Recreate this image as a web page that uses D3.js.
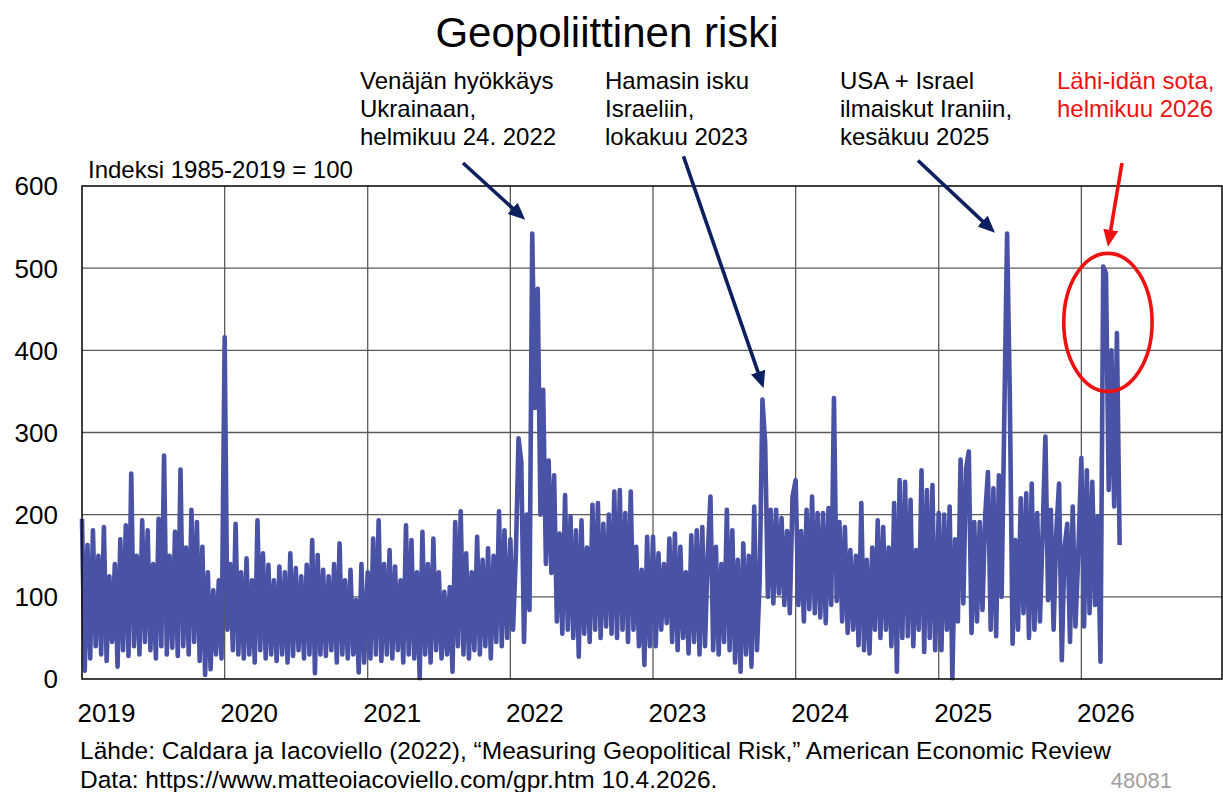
<!DOCTYPE html>
<html><head><meta charset="utf-8">
<script src="https://cdn.jsdelivr.net/npm/d3@7"></script>
<style>
body{margin:0;background:#fff}
svg{display:block}
text{font-family:"Liberation Sans",Arial,Helvetica,sans-serif;fill:#000}
</style>
</head><body>
<svg id="c" width="1223" height="792"></svg>
<script>
// ---- Data (weekly readings, Geopolitical Risk daily index, 1985-2019 = 100) ----
const gpr2019 = [195,10,163,25,181,40,150,30,185,22,125,45,140,15,170,35,187,28,250,40,150,30,193,45,181,35,140,25,195,40,272,30,150,38,179,28,255,40,160,30,206,45,191,22,161,5,130,12,108,30,120,25];
const gpr2020 = [416,60,140,35,189,30,130,25,147,30,120,20,193,35,153,25,139,30,120,22,137,30,130,20,153,28,135,35,125,25,139,30,169,7,151,30,133,28,125,35,140,20,165,30,120,25,133,30,96,8,140,20];
const gpr2021 = [130,25,171,30,193,22,140,30,157,25,137,35,120,20,187,30,169,25,130,1,179,30,140,20,171,35,130,25,106,30,112,9,191,40,204,30,153,25,130,35,173,30,145,40,159,25,150,45,204,40,181,50];
const gpr2022 = [170,60,150,293,264,45,200,84,542,330,475,200,352,140,266,129,248,70,177,55,224,60,198,50,181,27,193,55,160,45,212,60,214,50,189,64,200,55,228,50,230,60,202,45,228,60,161,40,133,17,173,40];
const gpr2023 = [173,40,153,60,140,68,171,45,177,35,161,50,130,31,175,45,181,30,185,40,150,222,35,161,30,140,45,206,35,181,20,145,9,165,30,150,15,210,35,120,340,287,100,206,92,206,104,196,90,180,80,222];
const gpr2024 = [242,90,180,70,206,85,222,80,202,75,202,68,208,90,342,95,191,70,185,56,157,60,150,41,214,35,145,31,160,60,193,50,185,60,160,40,214,9,242,50,240,52,218,40,157,60,254,33,230,50,236,35];
const gpr2025 = [202,35,200,60,210,1,170,70,267,92,256,277,56,191,70,191,84,200,252,60,232,52,248,100,323,542,344,43,169,60,220,80,226,50,238,60,202,70,180,295,96,206,60,180,238,23,160,189,45,210,64,150];
const gpr2026 = [269,64,254,80,240,90,198,21,502,494,230,400,210,421,163];

const seriesYears = [2019,2020,2021,2022,2023,2024,2025,2026];
const seriesValues = [gpr2019,gpr2020,gpr2021,gpr2022,gpr2023,gpr2024,gpr2025,gpr2026];

const yTicks = [0,100,200,300,400,500,600];
const xTickYears = [2019,2020,2021,2022,2023,2024,2025,2026];

const titleText = "Geopoliittinen riski";
const unitText = "Indeksi 1985-2019 = 100";
const sourceLines = ["Lähde: Caldara ja Iacoviello (2022), \u201cMeasuring Geopolitical Risk,\u201d American Economic Review",
                     "Data: https://www.matteoiacoviello.com/gpr.htm 10.4.2026."];
const chartId = "48081";

// annotations: text lines + arrow from/to in data space (date, index value)
const annotations = [
  {lines:["Venäjän hyökkäys","Ukrainaan,","helmikuu 24. 2022"], tx:360, color:"#000",
   from:["2021-09-02",628], to:["2022-02-08",559], arrow:"#0c1f5e"},
  {lines:["Hamasin isku","Israeliin,","lokakuu 2023"], tx:605, color:"#000",
   from:["2023-03-20",636], to:["2023-10-11",354], arrow:"#0c1f5e"},
  {lines:["USA + Israel","ilmaiskut Iraniin,","kesäkuu 2025"], tx:840, color:"#000",
   from:["2024-11-09",631], to:["2025-05-25",543], arrow:"#0c1f5e"},
  {lines:["Lähi-idän sota,","helmikuu 2026"], tx:1057, color:"#ee1111",
   from:["2026-04-15",628], to:["2026-03-10",526], arrow:"#ee1111"}
];
const highlight = {x0:"2025-11-17", x1:"2026-07-01", y0:350, y1:518};

// ---- Build ----
const parse = d3.timeParse("%Y-%m-%d");
const data = [];
seriesYears.forEach((yr,k) => {
  seriesValues[k].forEach((v,i) => {
    data.push({date: d3.timeDay.offset(new Date(yr,0,1), 7*i), value: v});
  });
});

const svg = d3.select("#c");
const L = 82, R = 1222, T = 186, B = 679;
const x = d3.scaleTime().domain([new Date(2019,0,1), new Date(2027,0,1)]).range([L, 1224]);
const y = d3.scaleLinear().domain([0,600]).range([B, T]);

// grid
const g = svg.append("g");
g.selectAll("line.h").data(yTicks.filter(t => t>0 && t<600)).join("line")
  .attr("x1", L).attr("x2", R).attr("y1", d=>y(d)).attr("y2", d=>y(d))
  .attr("stroke","#5a5a5a").attr("stroke-width",1.3);
g.selectAll("line.v").data(xTickYears.slice(1)).join("line")
  .attr("x1", d=>x(new Date(d,0,1))).attr("x2", d=>x(new Date(d,0,1)))
  .attr("y1", T).attr("y2", B)
  .attr("stroke","#5a5a5a").attr("stroke-width",1.3);

// series
const line = d3.line().x(d=>x(d.date)).y(d=>y(d.value));
svg.append("path").datum(data).attr("d", line)
  .attr("fill","none").attr("stroke","#4a52a5").attr("stroke-width",4.6)
  .attr("stroke-linejoin","round");

// frame
svg.append("rect").attr("x",L).attr("y",T).attr("width",R-L).attr("height",B-T)
  .attr("fill","none").attr("stroke","#111").attr("stroke-width",1.6);

// y labels
svg.selectAll("text.yl").data(yTicks).join("text")
  .attr("x",58).attr("y",d=>y(d)).attr("dy","0.36em")
  .attr("text-anchor","end").style("font-size","26px").text(d=>d);

// x labels
svg.selectAll("text.xl").data(xTickYears).join("text")
  .attr("x",d=>x(new Date(d,0,1))+24.5).attr("y",722)
  .attr("text-anchor","middle").style("font-size","26px").text(d=>d);

// title
svg.append("text").attr("x",607).attr("y",47).attr("text-anchor","middle")
  .style("font-size","42px").text(titleText);

// unit label
svg.append("text").attr("x",88).attr("y",178).style("font-size","24px").text(unitText);

// annotations
const defs = svg.append("defs");
annotations.forEach((a,k) => {
  const t = svg.append("text").attr("x",a.tx).attr("y",89).style("font-size","24px");
  a.lines.forEach((ln,j) => {
    t.append("tspan").attr("x",a.tx).attr("y",89+28*j).style("fill",a.color).text(ln);
  });
  defs.append("marker").attr("id","ah"+k).attr("markerUnits","userSpaceOnUse")
    .attr("markerWidth",17).attr("markerHeight",15).attr("refX",17).attr("refY",7.5)
    .attr("orient","auto")
    .append("path").attr("d","M0,0 L17,7.5 L0,15 Z").attr("fill",a.arrow);
  const x1 = x(parse(a.from[0])), y1 = y(a.from[1]);
  const x2 = x(parse(a.to[0])), y2 = y(a.to[1]);
  const len = Math.hypot(x2-x1, y2-y1);
  const sx = x2 - (x2-x1)/len*8, sy = y2 - (y2-y1)/len*8;
  svg.append("line").attr("x1",x1).attr("y1",y1).attr("x2",sx).attr("y2",sy)
    .attr("stroke",a.arrow).attr("stroke-width",3.6);
  svg.append("path").attr("d",`M${sx},${sy}L${x2},${y2}`).attr("stroke",a.arrow)
    .attr("stroke-width",0.01).attr("fill","none").attr("marker-end","url(#ah"+k+")");
});

// highlight ellipse
{
  const ex0 = x(parse(highlight.x0)), ex1 = x(parse(highlight.x1));
  const ey0 = y(highlight.y1), ey1 = y(highlight.y0);
  svg.append("ellipse").attr("cx",(ex0+ex1)/2).attr("cy",(ey0+ey1)/2)
    .attr("rx",(ex1-ex0)/2).attr("ry",(ey1-ey0)/2)
    .attr("fill","none").attr("stroke","#ee1111").attr("stroke-width",3.6);
}

// source
sourceLines.forEach((s,j) => {
  svg.append("text").attr("x",80).attr("y",759+29*j).style("font-size","24.5px").text(s);
});
svg.append("text").attr("x",1172).attr("y",788).attr("text-anchor","end")
  .style("font-size","22px").style("fill","#a0a0a0").text(chartId);
</script>
</body></html>
